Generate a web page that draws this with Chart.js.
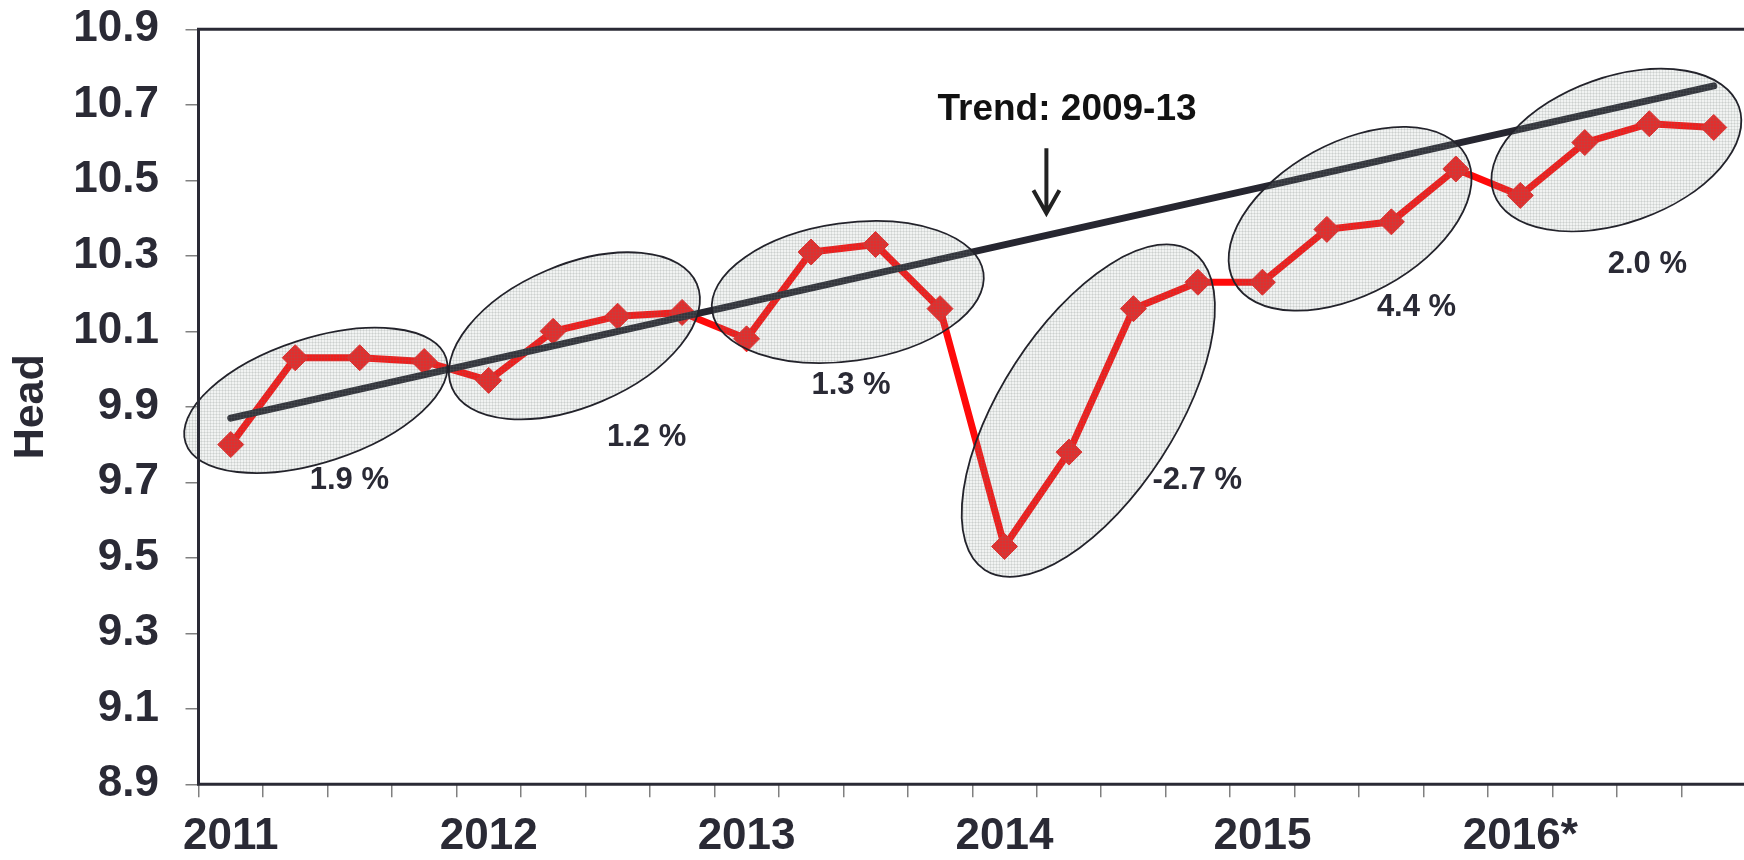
<!DOCTYPE html>
<html>
<head>
<meta charset="utf-8">
<script src="https://cdn.jsdelivr.net/npm/chart.js@4.4.0/dist/chart.umd.min.js"></script>
<style>
html, body { margin: 0; padding: 0; background: #fff; overflow: hidden; }
#wrap { position: relative; width: 1744px; height: 860px; overflow: hidden; }
#chart1 { position: absolute; left: 0; top: 0; }
</style>
</head>
<body>
<div id="wrap"><canvas id="chart1" width="1760" height="860"></canvas></div>
<script>
/* ---------------- data ---------------- */
const years = ['2011', '2012', '2013', '2014', '2015', '2016*'];
const quarters = ['Q1', 'Q2', 'Q3', 'Q4'];
const headValues = [9.80, 10.03, 10.03, 10.02,
                    9.97, 10.10, 10.14, 10.15,
                    10.08, 10.31, 10.33, 10.16,
                    9.53, 9.78, 10.16, 10.23,
                    10.23, 10.37, 10.39, 10.53,
                    10.46, 10.60, 10.65, 10.64];
const trendEnds = [9.87, 10.75];          // trend 2009-13, first and last quarter
const yTicks = [8.9, 9.1, 9.3, 9.5, 9.7, 9.9, 10.1, 10.3, 10.5, 10.7, 10.9];
const growthLabels = ['1.9 %', '1.2 %', '1.3 %', '-2.7 %', '4.4 %', '2.0 %'];
const trendLabel = 'Trend: 2009-13';
const yTitle = 'Head';

const categories = years.flatMap(y => quarters.map(q => y + ' ' + q));
const trendData = categories.map((c, i) => i === 0 ? trendEnds[0] : (i === categories.length - 1 ? trendEnds[1] : null));

/* ---------------- layout of the notes (index / value coords) ---------------- */
const ink = '#2a2a35';
const font = "'Liberation Sans', Arial, sans-serif";
const ellipses = [
  {i: 1.32,  v: 9.917,  a: 137, b: 62, rot: -18},
  {i: 5.33,  v: 10.088, a: 133, b: 71, rot: -23},
  {i: 9.57,  v: 10.204, a: 137, b: 69, rot: -8},
  {i: 13.30, v: 9.89,   a: 190, b: 87, rot: -57},
  {i: 17.36, v: 10.398, a: 132, b: 76, rot: -28.6},
  {i: 21.49, v: 10.58,  a: 130, b: 73, rot: -19.5}
];
const labelPos = [
  {i: 1.84, v: 9.704}, {i: 6.45, v: 9.819}, {i: 9.62, v: 9.956},
  {i: 14.99, v: 9.704}, {i: 18.39, v: 10.162}, {i: 21.97, v: 10.276}
];

// fine dotted fill used inside the ellipses
function dotPattern(ctx) {
  const c = document.createElement('canvas');
  c.width = 3; c.height = 3;
  const p = c.getContext('2d');
  p.fillStyle = 'rgba(150,165,158,0.13)';
  p.fillRect(0, 0, 3, 3);
  p.fillStyle = 'rgba(110,122,116,0.15)';
  p.fillRect(0, 0, 1, 3);
  p.fillRect(0, 0, 3, 1);
  return ctx.createPattern(c, 'repeat');
}

const notes = {
  id: 'notes',
  afterDatasetsDraw(chart) {
    const ctx = chart.ctx, xs = chart.scales.x, ys = chart.scales.y;
    const area = chart.chartArea;
    const pat = dotPattern(ctx);
    ctx.save();
    // shaded ellipses
    ellipses.forEach(e => {
      ctx.beginPath();
      ctx.ellipse(xs.getPixelForValue(e.i), ys.getPixelForValue(e.v), e.a, e.b, e.rot * Math.PI / 180, 0, Math.PI * 2);
      ctx.fillStyle = pat;
      ctx.fill();
      ctx.lineWidth = 1.8;
      ctx.strokeStyle = '#23232b';
      ctx.stroke();
    });
    // frame (left, top, bottom - right side runs off the picture)
    ctx.lineWidth = 3;
    ctx.strokeStyle = ink;
    ctx.beginPath();
    ctx.moveTo(chart.width, area.top);
    ctx.lineTo(area.left, area.top);
    ctx.lineTo(area.left, area.bottom);
    ctx.lineTo(chart.width, area.bottom);
    ctx.stroke();
    // growth labels
    ctx.fillStyle = ink;
    ctx.font = 'bold 31px ' + font;
    ctx.textAlign = 'center';
    ctx.textBaseline = 'middle';
    growthLabels.forEach((t, k) => {
      ctx.fillText(t, xs.getPixelForValue(labelPos[k].i), ys.getPixelForValue(labelPos[k].v));
    });
    // trend label and arrow
    ctx.fillStyle = '#111';
    ctx.font = 'bold 37px ' + font;
    ctx.fillText(trendLabel, xs.getPixelForValue(12.97), ys.getPixelForValue(10.688));
    const ax = xs.getPixelForValue(12.65);
    const ay0 = ys.getPixelForValue(10.585), ay1 = ys.getPixelForValue(10.413);
    ctx.strokeStyle = '#222';
    ctx.lineWidth = 4;
    ctx.beginPath();
    ctx.moveTo(ax, ay0);
    ctx.lineTo(ax, ay1 - 2);
    ctx.moveTo(ax - 13, ay1 - 23);
    ctx.lineTo(ax, ay1);
    ctx.lineTo(ax + 13, ay1 - 23);
    ctx.stroke();
    ctx.restore();
  }
};

const ctx1 = document.getElementById('chart1').getContext('2d');

const data1 = {
  labels: categories,
  datasets: [
    {
      label: 'Trend',
      data: trendData,
      spanGaps: true,
      borderColor: '#262630',
      borderWidth: 7,
      borderCapStyle: 'round',
      pointRadius: 0
    },
    {
      label: 'Head',
      data: headValues,
      borderColor: '#ff0a0a',
      borderWidth: 7,
      pointStyle: 'rectRot',
      pointRadius: 13,
      pointBackgroundColor: '#f01c1c',
      pointBorderColor: '#f01c1c',
      pointBorderWidth: 1,
      tension: 0
    }
  ]
};

const config1 = {
  type: 'line',
  data: data1,
  plugins: [notes],
  options: {
    responsive: false,
    animation: false,
    layout: { padding: { top: 29.3, left: 0, right: 12, bottom: 0 } },
    scales: {
      x: {
        offset: true,
        border: { display: false },
        grid: { offset: true, drawOnChartArea: false, drawTicks: true, tickLength: 13, color: '#808080', lineWidth: 1.5 },
        ticks: {
          autoSkip: false,
          maxRotation: 0,
          padding: 13,
          color: ink,
          font: { family: font, size: 44, weight: 'bold' },
          callback: (val, idx) => idx % 4 === 0 ? years[idx / 4] : ''
        },
        afterFit: (s) => { s.height = 860 - 784.3; s.paddingLeft = 0; s.paddingRight = 0; }
      },
      y: {
        min: 8.9,
        max: 10.9,
        border: { display: false },
        grid: { drawOnChartArea: false, drawTicks: true, tickLength: 13, color: '#808080', lineWidth: 1.5 },
        afterBuildTicks: (axis) => { axis.ticks = yTicks.map(v => ({ value: v })); },
        ticks: {
          padding: 26.5,
          color: ink,
          font: { family: font, size: 44, weight: 'bold' },
          callback: (v) => Number(v).toFixed(1)
        },
        title: {
          display: true,
          text: yTitle,
          color: ink,
          padding: { top: 5, bottom: 0 },
          font: { family: font, size: 43, weight: 'bold', lineHeight: 1.2 }
        },
        afterFit: (s) => { s.width = 198.5; s.paddingTop = 0; s.paddingBottom = 0; }
      }
    },
    plugins: {
      legend: { display: false },
      tooltip: { enabled: false }
    }
  }
};

const myChart1 = new Chart(ctx1, config1);
</script>
</body>
</html>
